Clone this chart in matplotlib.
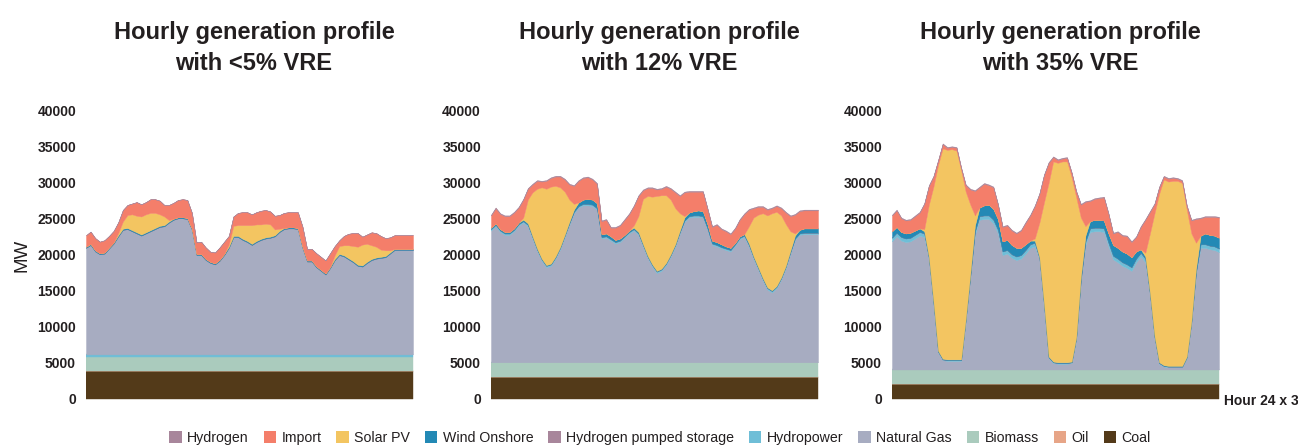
import matplotlib
matplotlib.use("Agg")
import matplotlib.pyplot as plt
from matplotlib.patches import Patch

plt.rcParams['font.family'] = ['Liberation Sans', 'DejaVu Sans']

hours = list(range(72))

# series names, legend order (top of stack first)
legend_names = ['Hydrogen', 'Import', 'Solar PV', 'Wind Onshore', 'Hydrogen pumped storage',
                'Hydropower', 'Natural Gas', 'Biomass', 'Oil', 'Coal']
colors = {
    'Hydrogen': '#a8869b',
    'Import': '#f47e6a',
    'Solar PV': '#f3c561',
    'Wind Onshore': '#2389b5',
    'Hydrogen pumped storage': '#a8869b',
    'Hydropower': '#6fbed7',
    'Natural Gas': '#a7acc1',
    'Biomass': '#aacbbd',
    'Oil': '#e7a587',
    'Coal': '#533a19',
}

titles = ['Hourly generation profile\nwith <5% VRE',
          'Hourly generation profile\nwith 12% VRE',
          'Hourly generation profile\nwith 35% VRE']
yticks = [0, 5000, 10000, 15000, 20000, 25000, 30000, 35000, 40000]

# ---- panel 1: <5% VRE (MW per hour) ----
coal_1 = [3900] * 72
oil_1 = [0] * 72
biomass_1 = [2000] * 72
hydro_1 = [300] * 72
gas_1 = [14800, 15200, 14300, 13900, 14000, 14700, 15400, 16400, 17300, 17400,
         17100, 16800, 16500, 16800, 17100, 17400, 17700, 17800, 18300, 18700,
         18900, 18900, 18800, 17300, 13800, 13800, 13100, 12700, 12500, 13000,
         13800, 14800, 16300, 16300, 15900, 15600, 15200, 15600, 15900, 16100,
         16200, 16400, 17000, 17400, 17500, 17500, 17400, 14800, 12900, 12900,
         12100, 11600, 11100, 12000, 13100, 13800, 13600, 13200, 12800, 12300,
         12200, 12700, 13100, 13300, 13400, 13500, 14000, 14500, 14500, 14500,
         14500, 14500]
h2ps_1 = [0] * 72
wind_1 = [150] * 72
solar_1 = [0, 0, 0, 0, 0, 0, 0, 300, 1000, 1800,
           2200, 2300, 2500, 2500, 2400, 2100, 1600, 1200, 200, 0,
           0, 0, 0, 0, 0, 0, 0, 0, 0, 0,
           0, 300, 1400, 1500, 1900, 2200, 2600, 2300, 2000, 1900,
           1700, 800, 300, 0, 0, 0, 0, 0, 0, 0,
           0, 0, 0, 0, 500, 1100, 1400, 1800, 2100, 2500,
           2900, 2500, 1900, 1500, 1000, 800, 300, 0, 0, 0,
           0, 0]
import_1 = [1600, 1700, 1700, 1600, 1700, 1600, 1600, 1500, 1600, 1400,
            1500, 1900, 1700, 1700, 1900, 1900, 1900, 1600, 2100, 2200,
            2400, 2500, 2500, 2200, 1600, 1700, 1600, 1400, 1500, 1700,
            1700, 1200, 1300, 1700, 1800, 1800, 1500, 1700, 1900, 1900,
            1800, 1900, 1900, 2100, 2100, 2100, 2200, 2800, 1600, 1600,
            1800, 1800, 1800, 1900, 1300, 800, 1300, 1600, 1800, 1900,
            1100, 1300, 1800, 1900, 1900, 1700, 1800, 1900, 1900, 1900,
            1900, 1900]
hydrogen_1 = [0] * 72

# ---- panel 2: 12% VRE ----
coal_2 = [3100] * 72
oil_2 = [0] * 72
biomass_2 = [2000] * 72
gas_2 = [18300, 18900, 18100, 17700, 17700, 18200, 19000, 19400, 18900, 17200,
         15500, 14100, 13200, 13400, 14400, 15700, 17400, 19100, 20700, 21500,
         21800, 21800, 21700, 21200, 17200, 17300, 16900, 16500, 16700, 17300,
         17900, 18300, 17700, 16100, 14500, 13300, 12400, 12700, 13500, 14700,
         16100, 17900, 19500, 20100, 20200, 20200, 20100, 18400, 16300, 16100,
         15800, 15600, 15400, 16200, 17100, 17400, 16100, 14400, 12900, 11400,
         10100, 9700, 10300, 11500, 13100, 15100, 17000, 17700, 17800, 17800,
         17800, 17800]
hydro_2 = [200] * 72
h2ps_2 = [0] * 72
wind_2 = [200, 200, 200, 200, 200, 200, 200, 200, 200, 100,
          100, 100, 100, 100, 100, 100, 100, 200, 300, 500,
          600, 700, 700, 700, 400, 400, 400, 300, 300, 200,
          200, 200, 200, 100, 100, 100, 100, 100, 100, 100,
          100, 200, 400, 500, 600, 700, 700, 600, 400, 400,
          400, 300, 300, 200, 200, 200, 200, 100, 100, 100,
          100, 100, 100, 100, 100, 200, 400, 500, 600, 600,
          600, 600]
solar_2 = [0, 0, 0, 0, 0, 0, 0, 300, 3300, 6100,
           8300, 9900, 10600, 10700, 9800, 8300, 6000, 3100, 800, 0,
           0, 0, 0, 0, 0, 0, 0, 0, 0, 0,
           0, 300, 2200, 6300, 8300, 9400, 10400, 10200, 9400, 7600,
           5000, 2400, 200, 0, 0, 0, 0, 0, 0, 0,
           0, 0, 0, 0, 0, 0, 2400, 5400, 7300, 9000,
           10000, 10700, 10300, 8600, 5800, 2700, 300, 0, 0, 0,
           0, 0]
import_2 = [1700, 2100, 2100, 2200, 2200, 2200, 2100, 2500, 1500, 1100,
            1100, 800, 1100, 1200, 1300, 1500, 1700, 2100, 2500, 3000,
            3000, 3000, 2800, 2700, 1800, 1900, 1200, 1700, 1800, 2100,
            2300, 2700, 2800, 1200, 1100, 1200, 900, 900, 1200, 1500,
            2200, 2400, 3300, 2900, 2700, 2600, 2700, 2100, 1900, 2400,
            2100, 2100, 1900, 2000, 2300, 2800, 2300, 1300, 1100, 900,
            800, 700, 800, 1000, 1600, 2100, 2600, 2600, 2500, 2500,
            2500, 2500]
hydrogen_2 = [100] * 72

# ---- panel 3: 35% VRE ----
coal_3 = [2100] * 72
oil_3 = [0] * 72
biomass_3 = [2000] * 72
gas_3 = [17800, 18500, 17900, 17700, 17800, 18200, 18600, 18400, 15400, 9200,
         2400, 1300, 1200, 1200, 1200, 1200, 6800, 12900, 18700, 20800,
         20900, 20900, 20300, 18900, 15900, 16100, 15500, 15200, 15400, 16100,
         16900, 17100, 15400, 8900, 1600, 900, 800, 800, 800, 900,
         4300, 12400, 17300, 19100, 19200, 19200, 19100, 17100, 15300, 14900,
         14400, 14100, 13700, 14900, 15700, 14900, 10400, 4400, 800, 400,
         300, 300, 300, 300, 1600, 6500, 13400, 16900, 16900, 16700,
         16600, 16300]
hydro_3 = [500, 500, 500, 500, 500, 500, 500, 500, 100, 100,
           100, 100, 100, 100, 100, 100, 100, 100, 500, 500,
           500, 500, 500, 500, 500, 500, 500, 500, 500, 500,
           500, 500, 100, 100, 100, 100, 100, 100, 100, 100,
           100, 100, 500, 500, 500, 500, 500, 500, 500, 500,
           500, 500, 500, 500, 500, 500, 100, 100, 100, 100,
           100, 100, 100, 100, 100, 100, 100, 500, 500, 500,
           500, 500]
h2ps_3 = [0] * 72
wind_3 = [900, 800, 700, 700, 700, 600, 500, 300, 100, 100,
          100, 100, 100, 100, 100, 100, 100, 300, 800, 1200,
          1400, 1500, 1500, 1500, 1400, 1400, 1300, 1200, 1000, 800,
          500, 300, 100, 100, 100, 100, 100, 100, 100, 100,
          100, 400, 800, 1000, 1100, 1100, 1100, 1300, 1500, 1500,
          1500, 1500, 1400, 1000, 500, 300, 100, 100, 100, 100,
          100, 100, 100, 100, 100, 100, 500, 1200, 1500, 1500,
          1500, 1500]
solar_3 = [0, 0, 0, 0, 0, 0, 0, 300, 7300, 16000,
           25800, 29200, 29100, 29200, 29000, 26300, 17700, 9600, 1400, 0,
           0, 0, 0, 0, 0, 0, 0, 0, 0, 0,
           0, 300, 4800, 14100, 24100, 27800, 27700, 27900, 27900, 25600,
           19400, 8200, 1300, 0, 0, 0, 0, 0, 0, 0,
           0, 0, 0, 0, 0, 500, 8300, 17100, 23400, 25800,
           25600, 25700, 25700, 25400, 20400, 12200, 3600, 0, 0, 0,
           0, 0]
import_3 = [2200, 2300, 1900, 1800, 1800, 2000, 2200, 3500, 2600, 1400,
            600, 600, 300, 300, 400, 300, 900, 2100, 3400, 2800,
            3000, 2700, 3000, 2000, 2000, 2000, 2000, 2000, 2400, 3000,
            3500, 4500, 4000, 3800, 2800, 600, 400, 400, 500, 600,
            800, 1800, 3400, 2800, 2900, 3000, 3200, 2700, 1600, 2200,
            2200, 2400, 2100, 2000, 3100, 4600, 3000, 1300, 900, 400,
            400, 400, 300, 300, 500, 1800, 3300, 2400, 2300, 2500,
            2600, 2800]
hydrogen_3 = [100] * 72

# stacking order, bottom first (panel 1 has hydro strip below gas)
panels = [
    [('Coal', coal_1), ('Oil', oil_1), ('Biomass', biomass_1), ('Hydropower', hydro_1),
     ('Natural Gas', gas_1), ('Hydrogen pumped storage', h2ps_1), ('Wind Onshore', wind_1),
     ('Solar PV', solar_1), ('Import', import_1), ('Hydrogen', hydrogen_1)],
    [('Coal', coal_2), ('Oil', oil_2), ('Biomass', biomass_2), ('Natural Gas', gas_2),
     ('Hydropower', hydro_2), ('Hydrogen pumped storage', h2ps_2), ('Wind Onshore', wind_2),
     ('Solar PV', solar_2), ('Import', import_2), ('Hydrogen', hydrogen_2)],
    [('Coal', coal_3), ('Oil', oil_3), ('Biomass', biomass_3), ('Natural Gas', gas_3),
     ('Hydropower', hydro_3), ('Hydrogen pumped storage', h2ps_3), ('Wind Onshore', wind_3),
     ('Solar PV', solar_3), ('Import', import_3), ('Hydrogen', hydrogen_3)],
]

W, H = 1298, 446
fig = plt.figure(figsize=(W / 100, H / 100), dpi=100)
lefts = [86, 491, 892]
txt = '#231f20'

for i, layers in enumerate(panels):
    ax = fig.add_axes([lefts[i] / W, 1 - 399 / H, 327 / W, 288 / H])
    ax.stackplot(hours, *[v for _, v in layers],
                 colors=[colors[n] for n, _ in layers], linewidth=0.3,
                 edgecolor='face')
    ax.set_xlim(0, 71)
    ax.set_ylim(0, 40000)
    ax.set_xticks([])
    ax.set_yticks(yticks)
    ax.set_yticklabels([str(t) for t in yticks], fontsize=10, fontweight='bold', color=txt)
    ax.tick_params(axis='y', length=0, pad=7.2)
    for s in ax.spines.values():
        s.set_visible(False)
    # title block over each panel
    fig.text((lefts[i] + 168) / W, 1 - 48 / H, titles[i], ha='center', va='center',
             fontsize=17, fontweight='bold', color=txt, linespacing=1.5)
    if i == 0:
        ax.set_ylabel('MW', fontsize=13.5, color=txt, labelpad=5)

fig.text(1224 / W, 1 - 405 / H, 'Hour 24 x 3', ha='left', va='baseline',
         fontsize=10, fontweight='bold', color=txt)

handles = [Patch(facecolor=colors[n], edgecolor='none', label=n) for n in legend_names]
fig.legend(handles=handles, loc='center', bbox_to_anchor=(660 / W, 1 - 438 / H), ncol=10,
           frameon=False, fontsize=10.2, handlelength=0.88, handleheight=0.88,
           handletextpad=0.38, columnspacing=1.05, borderpad=0, labelcolor=txt)

fig.savefig('out.png', dpi=100)
